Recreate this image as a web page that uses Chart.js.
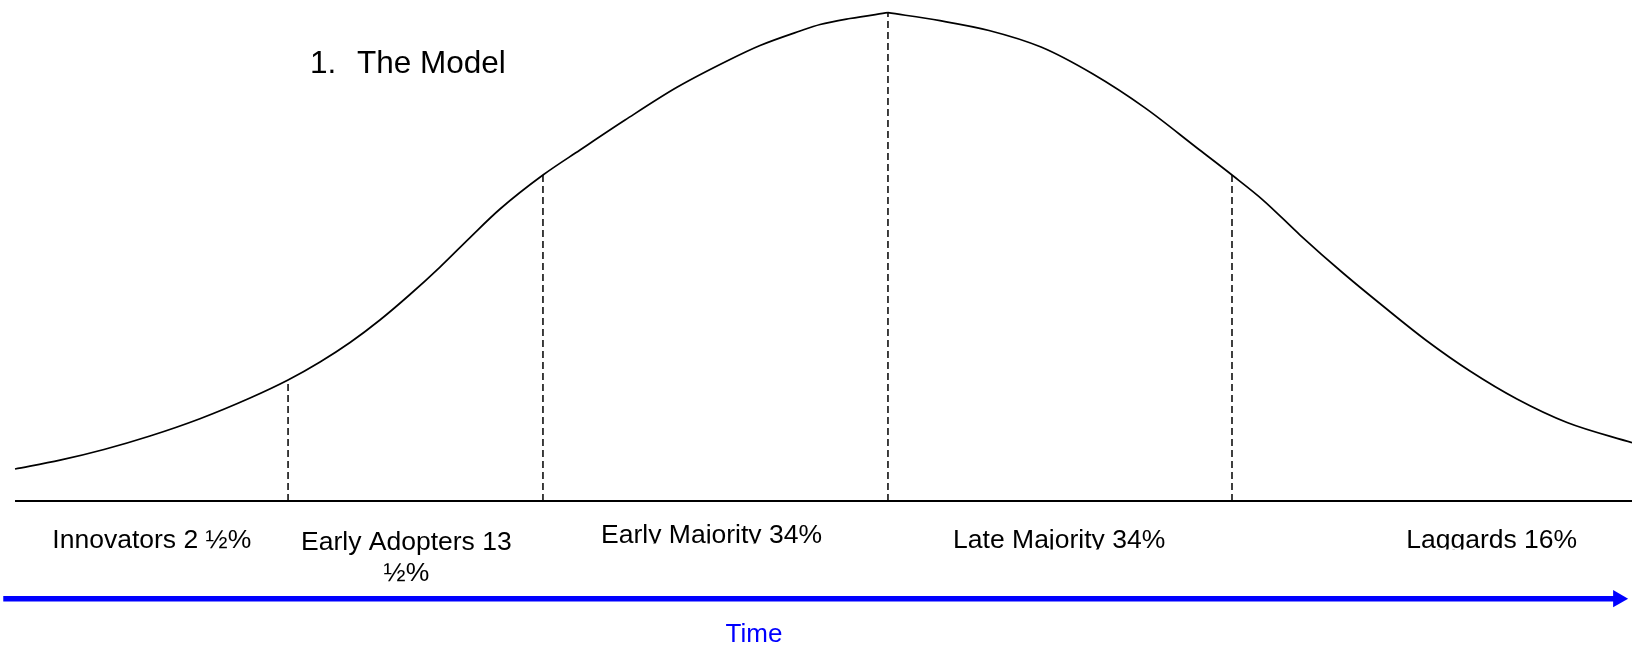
<!DOCTYPE html>
<html>
<head>
<meta charset="utf-8">
<script src="https://cdn.jsdelivr.net/npm/chart.js@4/dist/chart.umd.min.js"></script>
<style>
  html, body { margin: 0; padding: 0; background: #fff; }
  canvas { display: block; }
</style>
</head>
<body>
<canvas id="adoptionChart" width="1632" height="648"></canvas>
<script>
// Diffusion of innovations bell curve (time 0-100, adoption level 0-100)
const riseTime  = [0.92, 3.68, 6.37, 9.19, 12.25, 15.32, 17.65, 19.61, 21.45, 23.28, 25.12, 26.96, 28.80, 30.64, 33.27, 35.54, 38.30, 41.48, 44.67, 46.57, 49.02, 50.25, 52.08, 54.41];
const riseLevel = [6.55, 8.36, 10.55, 13.31, 16.85, 21.09, 24.78, 28.47, 32.46, 37.07, 42.29, 47.92, 53.96, 59.80, 66.76, 71.88, 78.01, 84.72, 90.31, 93.28, 96.25, 97.58, 98.81, 100];
const fallTime  = [54.41, 57.60, 60.60, 63.79, 66.97, 70.16, 73.35, 75.49, 77.39, 79.66, 82.29, 84.74, 87.44, 90.07, 92.95, 96.02, 100];
const fallLevel = [100, 98.36, 96.36, 92.96, 87.43, 80.50, 72.29, 66.76, 61.64, 54.47, 46.69, 39.93, 32.77, 26.62, 20.89, 16.08, 11.94];

// segment boundaries on the time axis
const dividerTimes = [17.65, 33.27, 54.41, 75.49];

const segmentLabels = ['Innovators 2 ½%', ['Early Adopters 13', '½%'], 'Early Majority 34%', 'Late Majority 34%', 'Laggards 16%'];
const titleNumber = '1.';
const titleText = 'The Model';
const axisLabel = 'Time';

const FONT = '"Liberation Sans", Arial, Helvetica, sans-serif';

// look up the curve height at a divider
function levelAt(t) {
    const all = riseTime.map((v, i) => ({x: v, y: riseLevel[i]}))
        .concat(fallTime.map((v, i) => ({x: v, y: fallLevel[i]})));
    const hit = all.find(p => Math.abs(p.x - t) < 0.01);
    return hit ? hit.y : 0;
}

const curveStyle = {
    borderColor: '#000',
    borderWidth: 1.7,
    pointRadius: 0,
    fill: false,
    cubicInterpolationMode: 'monotone'
};

const datasets = [];

dividerTimes.forEach(t => {
    datasets.push({
        data: [{x: t, y: 0}, {x: t, y: levelAt(t)}],
        borderColor: '#000',
        borderWidth: 1.5,
        borderDash: [7, 4],
        pointRadius: 0,
        fill: false
    });
});

datasets.push(Object.assign({data: riseTime.map((t, i) => ({x: t, y: riseLevel[i]}))}, curveStyle));
datasets.push(Object.assign({data: fallTime.map((t, i) => ({x: t, y: fallLevel[i]}))}, curveStyle));

// baseline
datasets.push({
    data: [{x: riseTime[0], y: 0}, {x: 100, y: 0}],
    borderColor: '#000',
    borderWidth: 2,
    pointRadius: 0
});

// blue time arrow
datasets.push({
    data: [{x: 0.2, y: -20}, {x: 99.15, y: -20}],
    borderColor: '#0000ff',
    borderWidth: 5.5,
    pointRadius: [0, 10],
    pointStyle: 'triangle',
    pointRotation: 90,
    pointBackgroundColor: '#0000ff',
    pointBorderWidth: 0
});

// text drawn on top of the plot
const textPlugin = {
    id: 'adoptionText',
    afterDraw(chart, args, opts) {
        const {ctx, scales: {x, y}} = chart;
        const base = y.getPixelForValue(0);
        ctx.save();
        ctx.textBaseline = 'alphabetic';

        // segment labels
        ctx.fillStyle = '#000';
        ctx.textAlign = 'center';
        ctx.font = '26.5px ' + FONT;
        segmentLabels.forEach((label, i) => {
            const lines = Array.isArray(label) ? label : [label];
            const cx = x.getPixelForValue(opts.labelCenters[i]);
            const by = base + opts.labelOffsets[i];
            ctx.save();
            if (opts.labelClip[i] !== null) {
                ctx.beginPath();
                ctx.rect(0, 0, chart.width, base + opts.labelClip[i]);
                ctx.clip();
            }
            lines.forEach((line, j) => ctx.fillText(line, cx, by + j * 31));
            ctx.restore();
        });

        // title
        ctx.textAlign = 'left';
        ctx.font = '31.5px ' + FONT;
        ctx.fillText(titleNumber, opts.titleX[0], opts.titleY);
        ctx.fillText(titleText, opts.titleX[1], opts.titleY);

        // time label
        ctx.fillStyle = '#0000ff';
        ctx.textAlign = 'center';
        ctx.font = '26px ' + FONT;
        ctx.fillText(axisLabel, x.getPixelForValue(opts.axisLabelCenter), base + opts.axisLabelOffset);
        ctx.restore();
    }
};

Chart.defaults.font.family = FONT;

new Chart(document.getElementById('adoptionChart'), {
    type: 'line',
    data: {datasets: datasets},
    options: {
        responsive: false,
        animation: false,
        devicePixelRatio: 1,
        events: [],
        layout: {padding: 0, autoPadding: false},
        scales: {
            x: {type: 'linear', min: 0, max: 100, display: false},
            y: {type: 'linear', min: -30.1, max: 102.6, display: false}
        },
        plugins: {
            legend: {display: false},
            tooltip: {enabled: false},
            adoptionText: {
                labelCenters: [9.3, 24.9, 43.6, 64.9, 91.4],
                labelOffsets: [46.5, 48.5, 41.5, 46.5, 46.5],
                labelClip: [null, null, 42.5, 48.5, 48.5],
                titleX: [310, 357],
                titleY: 73,
                axisLabelCenter: 46.2,
                axisLabelOffset: 141
            }
        }
    },
    plugins: [textPlugin]
});
</script>
</body>
</html>
